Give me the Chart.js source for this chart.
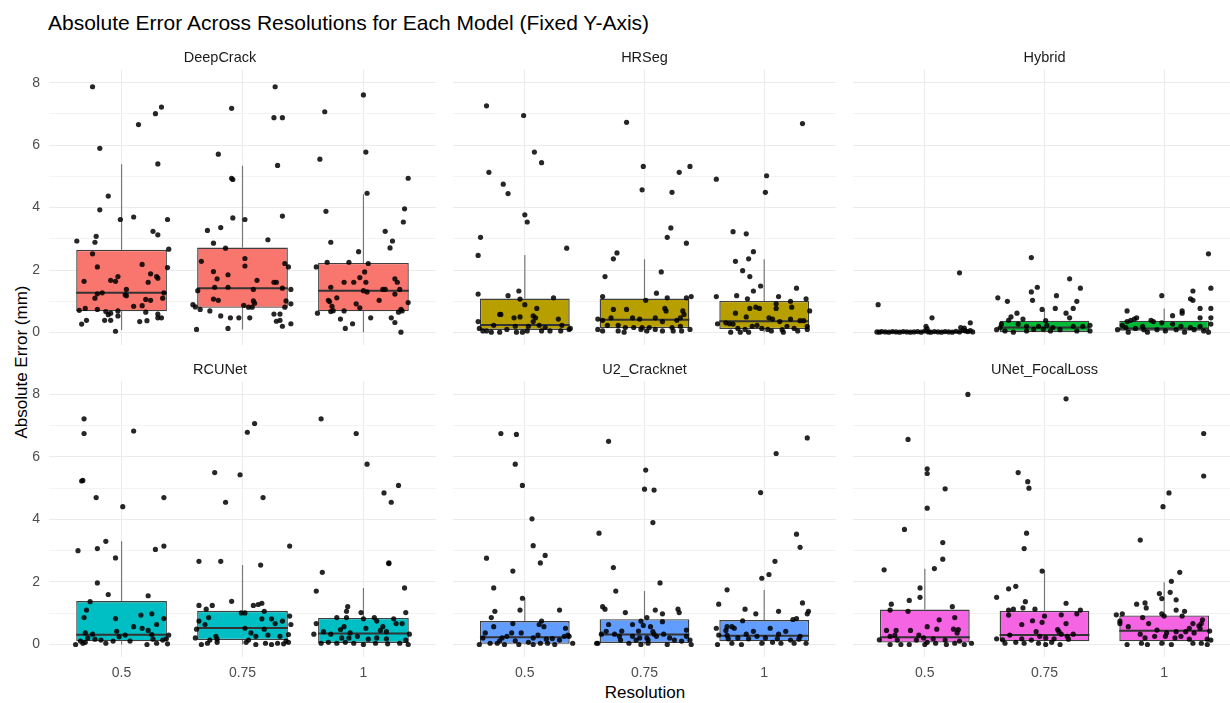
<!DOCTYPE html>
<html>
<head>
<meta charset="utf-8">
<script src="https://cdn.jsdelivr.net/npm/chart.js@4.4.1/dist/chart.umd.min.js"></script>
<style>
  html, body { margin: 0; padding: 0; background: #ffffff; }
  #wrap { position: relative; width: 1230px; height: 703px; overflow: hidden; font-family: "Liberation Sans", Arial, sans-serif; }
  #wrap canvas { position: absolute; }
  .main-title { position: absolute; left: 48px; top: 11px; font-size: 21px; color: #000; white-space: nowrap; }
  .y-title { position: absolute; left: 22px; top: 362px; transform: translate(-50%, -50%) rotate(-90deg); font-size: 17px; color: #000; white-space: nowrap; }
  .x-title { position: absolute; left: 645px; top: 692.5px; transform: translate(-50%, -50%); font-size: 17px; color: #000; white-space: nowrap; }
</style>
</head>
<body>
<div id="wrap">
  <div class="main-title">Absolute Error Across Resolutions for Each Model (Fixed Y-Axis)</div>
  <div class="y-title">Absolute Error (mm)</div>
  <div class="x-title">Resolution</div>
</div>
<script>
// ---- data ----
const resolutions = ['0.5', '0.75', '1'];
const models = ['DeepCrack', 'HRSeg', 'Hybrid', 'RCUNet', 'U2_Cracknet', 'UNet_FocalLoss'];
const modelColors = ['#F8766D', '#B79F00', '#00BA38', '#00BFC4', '#619CFF', '#F564E3'];
const yTickValues = [0, 1, 2, 3, 4, 5, 6, 7, 8];

// box statistics per model, one value per resolution
const whiskerLow = [
  [0.08, 0.10, 0.01], [0, 0, 0], [0, 0, 0], [0, 0, 0], [0, 0, 0], [0, 0, 0]
];
const quartile1 = [
  [0.68, 0.79, 0.68], [0.08, 0.14, 0.11], [0.005, 0.02, 0.06],
  [0.10, 0.14, 0.05], [0.02, 0.05, 0.10], [0.06, 0.10, 0.10]
];
const medians = [
  [1.27, 1.42, 1.34], [0.24, 0.41, 0.36], [0.02, 0.16, 0.13],
  [0.31, 0.53, 0.35], [0.23, 0.32, 0.28], [0.23, 0.30, 0.44]
];
const quartile3 = [
  [2.65, 2.72, 2.23], [1.09, 1.09, 1.01], [0.04, 0.38, 0.38],
  [1.39, 1.08, 0.85], [0.75, 0.81, 0.78], [1.12, 1.08, 0.93]
];
const whiskerHigh = [
  [5.39, 5.34, 4.43], [2.48, 2.35, 2.35], [0.09, 0.75, 0.77],
  [3.30, 2.54, 1.81], [1.49, 1.71, 1.74], [2.42, 2.38, 1.99]
];

// individual observations: [jitter offset in category units, absolute error]
const deepCrackPts = [
  [[-0.24,7.87],[-0.18,5.90],[0.14,6.66],[0.28,7.01],[0.33,7.22],[0.30,5.40],[-0.11,4.37],[-0.18,3.93],[-0.01,3.62],[0.10,3.70],[0.26,3.24],[0.30,3.13],[0.38,3.62],[-0.21,3.08],[-0.22,2.89],[-0.37,2.93],[0.39,2.67],[-0.24,2.52],[-0.20,2.10],[0.17,2.18],[0.38,2.08],[0.24,1.88],[0.29,1.79],[0.30,1.74],[-0.09,1.67],[-0.05,1.64],[-0.03,1.79],[-0.31,1.64],[0.22,1.61],[0.04,1.38],[-0.16,1.27],[-0.20,1.24],[-0.22,1.10],[0.35,1.27],[0.03,1.21],[0.04,1.18],[0.34,1.10],[0.20,1.06],[0.24,1.03],[0.17,0.86],[0.10,0.84],[-0.30,0.77],[-0.35,0.71],[-0.20,0.74],[-0.13,0.67],[-0.09,0.62],[-0.03,0.69],[0.20,0.65],[0.30,0.59],[0.30,0.47],[-0.03,0.53],[-0.29,0.39],[-0.33,0.27],[-0.14,0.39],[-0.09,0.39],[0.15,0.35],[0.21,0.38],[-0.05,0.04],[0.33,0.47],[-0.11,0.57]],
  [[0.27,7.87],[-0.09,7.18],[0.26,6.88],[0.33,6.88],[-0.20,5.71],[0.29,5.35],[-0.09,4.94],[-0.08,4.90],[-0.08,3.67],[0.02,3.62],[0.33,3.73],[-0.18,3.36],[-0.29,3.27],[0.21,2.97],[-0.24,2.86],[-0.14,2.70],[-0.34,2.28],[0.02,2.37],[0.02,2.13],[0.35,2.21],[0.38,2.10],[-0.24,1.95],[-0.12,1.85],[-0.21,1.72],[0.12,1.67],[0.26,1.61],[0.28,1.61],[-0.23,1.45],[-0.12,1.45],[0.09,1.38],[0.33,1.42],[0.40,1.38],[-0.37,1.34],[-0.24,1.07],[-0.20,1.03],[0.09,1.01],[0.10,0.94],[0.36,1.01],[0.40,0.92],[-0.41,0.89],[-0.39,0.82],[-0.35,0.74],[0.01,0.87],[0.05,0.81],[0.08,0.81],[0.35,0.81],[-0.27,0.69],[0.26,0.59],[0.31,0.59],[-0.18,0.53],[-0.10,0.47],[-0.03,0.47],[0.06,0.47],[0.28,0.36],[0.31,0.39],[0.33,0.20],[0.40,0.28],[-0.12,0.13],[-0.38,0.10]],
  [[-0.32,7.07],[0.00,7.61],[-0.36,5.55],[0.02,5.78],[-0.31,3.88],[0.03,4.46],[0.37,4.94],[0.34,3.96],[0.33,3.54],[-0.27,2.89],[0.18,3.24],[0.24,2.93],[0.22,2.71],[-0.04,2.59],[-0.39,2.10],[-0.30,2.25],[-0.12,2.25],[0.04,2.21],[0.01,1.94],[-0.03,1.76],[-0.16,1.61],[-0.08,1.61],[0.02,1.61],[0.26,1.72],[0.28,1.61],[-0.27,1.45],[0.00,1.34],[0.03,1.30],[0.16,1.38],[0.18,1.38],[0.26,1.23],[0.30,1.38],[-0.29,1.03],[-0.28,0.99],[-0.22,1.11],[0.13,1.03],[-0.06,0.92],[-0.03,0.79],[0.37,0.96],[-0.26,0.84],[-0.25,0.70],[-0.27,0.67],[-0.16,0.69],[-0.38,0.62],[0.31,0.74],[0.32,0.69],[0.29,0.65],[-0.19,0.43],[0.06,0.47],[-0.09,0.28],[-0.15,0.13],[0.23,0.47],[0.26,0.32],[0.31,0.01]]
];
const hrSegPts = [
  [[-0.32,7.26],[-0.01,6.95],[-0.30,5.13],[0.08,5.78],[0.14,5.44],[-0.18,4.75],[-0.14,4.45],[0.00,3.77],[0.02,3.54],[-0.37,3.05],[0.35,2.70],[-0.39,2.47],[-0.39,1.23],[-0.14,1.18],[-0.05,1.33],[-0.04,1.07],[0.00,0.89],[0.24,1.11],[0.10,0.77],[-0.21,0.58],[-0.20,0.58],[-0.09,0.47],[-0.04,0.50],[0.07,0.53],[0.09,0.47],[0.28,0.43],[-0.39,0.35],[0.07,0.35],[-0.26,0.23],[-0.08,0.20],[0.03,0.20],[0.12,0.23],[0.31,0.23],[-0.38,0.13],[-0.35,0.05],[-0.32,0.05],[-0.21,0.01],[-0.15,0.10],[-0.07,0.01],[-0.02,0.01],[0.02,0.05],[0.14,0.05],[0.21,0.05],[0.30,0.05],[0.37,0.10],[0.38,0.13],[-0.28,0.01],[0.17,0.16]],
  [[-0.15,6.73],[-0.01,5.32],[-0.02,4.57],[0.29,5.13],[0.38,5.32],[0.23,4.49],[0.22,3.35],[0.19,3.05],[0.35,2.86],[-0.23,2.55],[-0.26,2.36],[0.14,1.94],[-0.33,1.79],[0.10,1.26],[-0.35,1.15],[0.19,1.11],[0.35,1.11],[0.39,1.15],[0.01,1.03],[-0.26,0.74],[-0.15,0.74],[0.17,0.77],[0.18,0.69],[0.32,0.69],[0.33,0.58],[-0.39,0.43],[-0.35,0.39],[-0.28,0.47],[-0.10,0.47],[-0.04,0.43],[0.09,0.47],[0.15,0.35],[0.27,0.39],[0.30,0.47],[-0.31,0.23],[-0.22,0.23],[-0.16,0.16],[-0.09,0.16],[-0.02,0.16],[0.04,0.16],[0.23,0.16],[0.30,0.20],[-0.39,0.10],[-0.35,0.05],[-0.22,0.05],[-0.17,0.01],[-0.03,0.10],[0.02,0.05],[0.09,0.10],[0.15,0.05],[0.24,0.05],[0.31,0.05],[0.38,0.10]],
  [[0.32,6.69],[-0.40,4.91],[0.02,5.02],[0.01,4.49],[-0.26,3.23],[-0.15,3.16],[-0.09,2.59],[-0.24,2.28],[-0.13,2.36],[-0.18,1.98],[-0.12,1.79],[-0.03,1.49],[-0.09,1.33],[0.27,1.42],[-0.40,1.15],[-0.23,1.18],[-0.14,1.08],[0.12,1.15],[0.22,1.00],[0.35,1.08],[0.10,0.92],[0.23,0.81],[0.38,0.69],[-0.12,0.77],[-0.07,0.81],[-0.04,0.77],[0.10,0.77],[-0.24,0.62],[-0.15,0.50],[0.04,0.47],[0.07,0.43],[0.22,0.43],[0.30,0.38],[0.33,0.38],[0.13,0.35],[-0.39,0.28],[-0.32,0.31],[-0.29,0.28],[-0.26,0.27],[-0.06,0.23],[-0.10,0.20],[0.36,0.20],[0.19,0.20],[-0.22,0.13],[-0.16,0.10],[-0.02,0.13],[0.03,0.10],[0.15,0.09],[0.25,0.13],[-0.28,0.01],[-0.20,0.01],[-0.13,0.01],[0.06,0.05],[0.36,0.10],[0.16,0.01],[0.28,0.05]]
];
const hybridPts = [
  [[-0.39,0.89],[0.29,1.91],[0.06,0.47],[0.01,0.20],[0.38,0.31],[0.30,0.16],[-0.40,0.02],[-0.38,0.01],[-0.36,0.03],[-0.33,0.02],[-0.30,0.01],[-0.27,0.03],[-0.24,0.02],[-0.21,0.01],[-0.18,0.03],[-0.15,0.02],[-0.12,0.01],[-0.09,0.02],[-0.06,0.03],[-0.03,0.01],[0.00,0.05],[0.03,0.02],[0.05,0.01],[0.08,0.03],[0.11,0.02],[0.14,0.01],[0.17,0.03],[0.20,0.02],[0.23,0.01],[0.26,0.04],[0.29,0.02],[0.32,0.08],[0.34,0.05],[0.36,0.03],[0.38,0.06],[0.40,0.02],[0.02,0.12],[0.33,0.14]],
  [[-0.11,2.40],[-0.06,1.45],[-0.11,1.30],[-0.10,1.03],[0.21,1.72],[0.30,1.42],[0.10,1.18],[0.27,1.00],[-0.39,1.11],[-0.31,1.00],[-0.02,0.74],[0.09,0.77],[0.24,0.77],[-0.23,0.62],[0.18,0.62],[-0.28,0.50],[-0.18,0.43],[-0.30,0.39],[0.21,0.47],[0.01,0.38],[0.02,0.23],[-0.36,0.27],[-0.22,0.27],[-0.15,0.20],[-0.05,0.20],[0.07,0.16],[0.24,0.20],[0.32,0.20],[0.38,0.23],[-0.40,0.09],[-0.33,0.05],[-0.26,0.01],[-0.15,0.05],[-0.09,0.10],[0.05,0.05],[0.13,0.09],[0.27,0.05],[0.38,0.05],[-0.01,0.11],[-0.37,0.16]],
  [[0.37,2.52],[0.39,1.42],[0.24,1.33],[-0.02,1.18],[0.22,1.08],[0.24,1.03],[0.39,0.77],[0.30,0.77],[-0.31,0.69],[0.15,0.69],[0.15,0.62],[0.07,0.54],[0.30,0.47],[0.39,0.47],[-0.23,0.47],[-0.25,0.43],[-0.28,0.39],[-0.31,0.35],[-0.11,0.39],[-0.09,0.35],[-0.02,0.31],[-0.35,0.23],[-0.32,0.16],[-0.18,0.20],[0.07,0.27],[0.14,0.20],[0.22,0.16],[0.30,0.20],[0.39,0.27],[-0.39,0.09],[-0.30,0.01],[-0.24,0.13],[-0.17,0.09],[-0.14,0.01],[-0.06,0.09],[0.01,0.05],[0.10,0.09],[0.17,0.01],[0.25,0.09],[0.33,0.05],[0.37,0.01]]
];
const rcuNetPts = [
  [[-0.31,7.22],[-0.31,6.75],[0.10,6.83],[-0.33,5.23],[-0.32,5.25],[-0.21,4.70],[0.35,4.70],[0.01,4.41],[-0.36,3.00],[-0.20,3.07],[-0.13,3.30],[0.35,3.15],[0.28,3.04],[-0.05,2.77],[-0.20,1.97],[-0.11,1.60],[0.22,1.56],[-0.26,1.37],[-0.29,1.10],[-0.31,0.86],[-0.05,0.83],[0.16,0.94],[0.25,0.98],[0.35,0.83],[0.10,0.57],[0.17,0.52],[0.29,0.64],[0.22,0.45],[-0.04,0.42],[-0.30,0.37],[-0.24,0.33],[0.03,0.30],[-0.02,0.25],[0.39,0.30],[0.25,0.32],[-0.28,0.21],[-0.22,0.17],[-0.17,0.14],[-0.07,0.11],[0.07,0.11],[0.26,0.17],[0.34,0.14],[0.37,0.18],[-0.38,0.00],[-0.32,0.04],[-0.13,0.04],[0.21,0.00],[0.29,0.04],[0.38,0.02],[-0.34,0.11],[-0.30,0.07]],
  [[0.10,7.07],[0.04,6.79],[-0.23,5.50],[-0.02,5.43],[-0.14,4.55],[0.17,4.70],[0.39,3.15],[-0.36,2.66],[-0.18,2.66],[0.15,2.54],[-0.09,1.38],[-0.36,1.25],[-0.25,1.25],[-0.30,1.13],[0.09,1.25],[0.13,1.28],[0.16,1.32],[-0.01,1.01],[0.02,1.01],[0.18,1.06],[0.39,0.91],[-0.28,0.86],[0.16,0.82],[0.24,0.82],[-0.36,0.75],[0.33,0.75],[0.27,0.67],[0.40,0.64],[-0.31,0.64],[0.02,0.52],[0.18,0.49],[-0.38,0.49],[0.07,0.37],[0.11,0.26],[0.21,0.30],[0.31,0.26],[0.38,0.32],[-0.22,0.26],[-0.39,0.21],[-0.21,0.17],[-0.27,0.14],[0.05,0.14],[0.36,0.11],[-0.34,0.00],[-0.29,0.04],[-0.21,0.07],[0.03,0.07],[0.11,0.00],[0.19,0.04],[0.24,0.00],[0.29,0.04],[0.34,0.02],[0.38,0.07]],
  [[-0.35,7.22],[-0.06,6.75],[0.03,5.77],[0.17,4.85],[0.29,5.09],[0.23,4.55],[0.21,2.61],[0.21,2.59],[-0.34,2.31],[-0.39,1.71],[0.34,1.81],[-0.02,1.02],[0.35,1.02],[-0.13,1.21],[-0.14,1.06],[-0.22,0.86],[-0.14,0.86],[0.00,0.82],[0.09,0.86],[0.11,0.75],[0.25,0.82],[-0.39,0.67],[0.32,0.67],[0.27,0.67],[-0.16,0.57],[0.02,0.52],[0.16,0.57],[-0.19,0.48],[0.14,0.45],[-0.33,0.41],[-0.41,0.33],[-0.27,0.33],[-0.11,0.37],[0.19,0.41],[0.38,0.33],[-0.18,0.21],[-0.12,0.21],[-0.05,0.26],[0.04,0.17],[0.11,0.21],[0.19,0.18],[0.35,0.14],[-0.35,0.04],[-0.29,0.07],[-0.22,0.04],[-0.15,0.07],[-0.08,0.04],[0.00,0.00],[0.10,0.04],[0.20,0.02],[0.30,0.04],[0.37,0.00]]
];
const u2CracknetPts = [
  [[-0.20,6.75],[-0.07,6.72],[-0.08,5.77],[-0.02,5.09],[0.06,4.02],[0.07,3.16],[-0.32,2.76],[0.17,2.85],[0.13,2.61],[-0.10,2.35],[-0.26,1.81],[-0.02,1.48],[-0.25,1.06],[-0.04,1.10],[0.29,1.10],[-0.28,0.86],[-0.10,0.67],[0.14,0.75],[0.12,0.64],[0.16,0.57],[-0.26,0.57],[0.34,0.52],[-0.33,0.37],[-0.11,0.37],[-0.03,0.37],[0.11,0.30],[0.36,0.30],[-0.35,0.21],[-0.19,0.21],[-0.15,0.26],[0.07,0.21],[0.18,0.17],[0.23,0.19],[0.29,0.14],[0.33,0.26],[0.37,0.26],[-0.29,0.04],[-0.23,0.04],[-0.17,0.00],[-0.05,0.00],[0.03,0.07],[0.07,0.00],[0.13,0.04],[0.19,0.04],[0.25,0.00],[0.40,0.04],[-0.38,0.00],[-0.21,0.12],[-0.08,0.12]],
  [[-0.30,6.50],[0.01,5.58],[0.00,4.97],[0.08,4.94],[0.07,3.90],[-0.38,3.56],[-0.26,2.46],[0.13,1.97],[-0.24,1.71],[-0.35,1.21],[-0.33,1.13],[-0.16,1.02],[0.09,1.10],[0.15,0.98],[0.28,1.13],[0.29,1.02],[0.02,0.86],[-0.03,0.75],[0.15,0.73],[-0.10,0.64],[-0.01,0.61],[-0.30,0.64],[0.05,0.57],[0.35,0.46],[-0.32,0.42],[-0.19,0.43],[-0.05,0.43],[0.07,0.41],[-0.36,0.33],[-0.25,0.33],[0.08,0.33],[0.16,0.33],[-0.21,0.26],[-0.10,0.26],[-0.04,0.21],[0.02,0.21],[0.10,0.26],[0.21,0.21],[0.35,0.26],[-0.20,0.14],[-0.07,0.14],[0.03,0.14],[0.25,0.14],[0.31,0.11],[0.38,0.14],[-0.40,0.04],[-0.13,0.04],[-0.03,0.00],[0.03,0.04],[0.19,0.00],[0.39,0.00],[-0.39,0.04]],
  [[0.36,6.61],[0.10,6.11],[-0.03,4.86],[0.27,3.53],[0.30,3.11],[0.09,2.66],[0.04,2.24],[-0.02,2.12],[-0.31,1.75],[-0.38,1.29],[0.32,1.33],[-0.16,1.13],[-0.07,0.98],[0.12,1.06],[0.37,1.06],[0.36,0.98],[-0.18,0.76],[0.24,0.80],[0.27,0.83],[-0.40,0.52],[-0.31,0.57],[-0.27,0.57],[-0.25,0.52],[0.05,0.52],[-0.32,0.45],[-0.09,0.42],[-0.38,0.30],[-0.31,0.29],[-0.15,0.33],[-0.06,0.26],[0.12,0.33],[0.18,0.42],[0.30,0.26],[-0.30,0.18],[-0.22,0.21],[-0.13,0.18],[0.01,0.21],[0.11,0.18],[0.22,0.14],[0.29,0.17],[-0.39,0.00],[-0.27,0.04],[-0.19,0.00],[-0.02,0.04],[0.07,0.07],[0.14,0.04],[0.25,0.04],[0.35,0.04]]
];
const unetFocalPts = [
  [[0.36,8.00],[-0.14,6.56],[0.02,5.62],[0.02,5.47],[0.17,4.98],[0.02,4.36],[-0.17,3.68],[0.15,3.26],[0.15,2.73],[0.08,2.43],[-0.34,2.39],[-0.04,1.81],[-0.04,1.51],[-0.13,1.41],[-0.28,1.29],[-0.29,1.10],[-0.14,1.06],[0.23,1.21],[0.12,0.79],[0.25,0.86],[0.02,0.57],[-0.32,0.45],[-0.24,0.45],[-0.12,0.45],[0.10,0.49],[0.24,0.49],[0.28,0.48],[0.27,0.37],[-0.05,0.30],[-0.25,0.30],[-0.29,0.26],[-0.38,0.15],[-0.23,0.14],[-0.01,0.21],[0.07,0.18],[0.17,0.14],[0.02,0.07],[-0.29,0.00],[-0.20,0.00],[-0.13,0.00],[0.00,0.00],[0.09,0.04],[0.18,0.00],[0.25,0.04],[0.33,0.00],[0.39,0.04],[-0.07,0.14],[0.29,0.11]],
  [[0.18,7.86],[-0.22,5.50],[-0.14,5.21],[-0.13,5.00],[-0.15,3.56],[-0.17,3.07],[-0.02,2.35],[-0.24,1.86],[-0.30,1.78],[-0.40,1.51],[-0.16,1.37],[0.18,1.32],[-0.18,1.17],[-0.08,1.13],[-0.30,1.10],[-0.26,1.13],[0.30,1.10],[0.27,0.98],[0.14,0.95],[-0.30,0.94],[0.00,0.91],[-0.10,0.76],[-0.02,0.71],[0.18,0.67],[-0.19,0.64],[0.11,0.48],[-0.07,0.41],[0.12,0.41],[-0.40,0.18],[-0.29,0.30],[-0.19,0.18],[-0.11,0.14],[-0.04,0.26],[0.01,0.21],[0.08,0.18],[0.14,0.33],[0.19,0.26],[0.24,0.33],[0.20,0.17],[-0.33,0.04],[-0.24,0.07],[-0.17,0.04],[-0.05,0.04],[0.01,0.00],[0.06,0.07],[0.13,0.00],[-0.35,0.15]],
  [[0.33,6.75],[0.33,5.39],[0.04,4.85],[-0.01,4.41],[-0.20,3.34],[0.13,2.31],[0.06,2.02],[-0.04,1.63],[0.05,1.67],[-0.02,1.47],[0.10,1.43],[-0.23,1.29],[-0.16,1.33],[-0.15,1.17],[0.10,1.10],[0.17,1.06],[-0.40,0.95],[-0.35,0.98],[-0.02,0.98],[0.00,0.91],[-0.18,0.86],[0.15,0.91],[-0.37,0.75],[-0.37,0.67],[-0.13,0.67],[0.32,0.79],[0.24,0.67],[0.31,0.67],[-0.30,0.57],[0.21,0.52],[0.29,0.60],[0.30,0.52],[-0.06,0.46],[0.10,0.41],[0.18,0.41],[0.38,0.43],[-0.20,0.33],[0.02,0.37],[0.25,0.37],[-0.16,0.21],[-0.08,0.26],[0.01,0.26],[0.09,0.21],[0.14,0.26],[0.21,0.17],[0.36,0.17],[0.39,0.14],[-0.31,0.00],[-0.19,0.04],[-0.14,0.00],[-0.02,0.04],[0.06,0.00],[0.24,0.04],[0.31,0.04],[0.36,0.00]]
];
const jitterPoints = [deepCrackPts, hrSegPts, hybridPts, rcuNetPts, u2CracknetPts, unetFocalPts];

// ---- layout / style ----
const FONT = '"Liberation Sans", Arial, sans-serif';
const BOX_HALF = 0.375;          // half box width in category units
const X_MIN = 0.4, X_MAX = 3.6;
const Y_MIN = -0.4, Y_MAX = 8.42;
const colLeft = [0, 449, 849];
const colWidth = [440, 391, 391];
const rowTop = [41, 353];
const xAxisHeight = [20, 30];    // space under each row's panels
const rowHeight = [304 + 20, 304 + 30];
const stripPadTop = 7.8;
const stripPadBottom = [3.4, 3.1];

Chart.defaults.font.family = FONT;
Chart.defaults.animation = false;

function panel(m) {
  const row = Math.floor(m / 3), col = m % 3;
  const canvas = document.createElement('canvas');
  canvas.width = colWidth[col];
  canvas.height = rowHeight[row];
  canvas.style.left = colLeft[col] + 'px';
  canvas.style.top = rowTop[row] + 'px';
  document.getElementById('wrap').appendChild(canvas);

  const cats = resolutions.map((_, i) => i + 1);
  const boxes = cats.map((x, i) => ({ x, y: [quartile1[m][i], quartile3[m][i]] }));
  const medianSegs = [];
  const whiskerSegs = [];
  cats.forEach((x, i) => {
    medianSegs.push({ x: x - BOX_HALF, y: medians[m][i] }, { x: x + BOX_HALF, y: medians[m][i] }, { x: x + 0.5, y: null });
    whiskerSegs.push({ x, y: quartile3[m][i] }, { x, y: whiskerHigh[m][i] }, { x, y: null },
                     { x, y: whiskerLow[m][i] }, { x, y: quartile1[m][i] }, { x, y: null });
  });
  const pts = [];
  jitterPoints[m].forEach((grp, i) => grp.forEach(([dx, v]) => pts.push({ x: cats[i] + dx, y: v })));

  const showY = col === 0, showX = row === 1;
  new Chart(canvas, {
    type: 'bar',
    data: {
      datasets: [
        { type: 'bar', data: boxes, backgroundColor: modelColors[m], borderColor: '#3f3f3f', borderWidth: 1.4,
          borderSkipped: false, barPercentage: 0.75, categoryPercentage: 1, order: 3 },
        { type: 'line', data: whiskerSegs, borderColor: '#777777', borderWidth: 1.2, pointRadius: 0, fill: false, spanGaps: false, order: 2 },
        { type: 'line', data: medianSegs, borderColor: '#333333', borderWidth: 2, pointRadius: 0, fill: false, spanGaps: false, order: 2 },
        { type: 'scatter', data: pts, backgroundColor: 'rgba(0,0,0,0.85)', borderWidth: 0, pointRadius: 2.6, order: 1 }
      ]
    },
    options: {
      responsive: false,
      animation: false,
      layout: { padding: 0 },
      plugins: {
        legend: { display: false },
        tooltip: { enabled: false },
        title: { display: true, text: models[m], color: '#1a1a1a', font: { size: 14.5, weight: 'normal', family: FONT },
                 padding: { top: stripPadTop, bottom: stripPadBottom[row] } }
      },
      scales: {
        x: {
          type: 'linear', min: X_MIN, max: X_MAX, offset: false,
          afterBuildTicks: s => { s.ticks = cats.map(v => ({ value: v })); },
          afterFit: s => { s.height = xAxisHeight[row]; },
          grid: { color: '#ebebeb', lineWidth: 1, drawTicks: false, offset: false },
          border: { display: false },
          ticks: { display: showX, color: '#4d4d4d', font: { size: 14 }, padding: 8,
                   callback: v => resolutions[v - 1] ?? '' }
        },
        y: {
          type: 'linear', min: Y_MIN, max: Y_MAX,
          afterBuildTicks: s => { s.ticks = yTickValues.map(v => ({ value: v })); },
          afterFit: s => { s.width = showY ? 49 : 0; },
          grid: { color: ctx => (ctx.tick && ctx.tick.value % 2 === 0) ? '#ebebeb' : '#f3f3f3', lineWidth: 1, drawTicks: false },
          border: { display: false },
          ticks: { display: showY, color: '#4d4d4d', font: { size: 14 }, padding: 9,
                   callback: v => (v % 2 === 0 ? String(v) : '') }
        }
      }
    }
  });
}

models.forEach((_, m) => panel(m));
</script>
</body>
</html>
